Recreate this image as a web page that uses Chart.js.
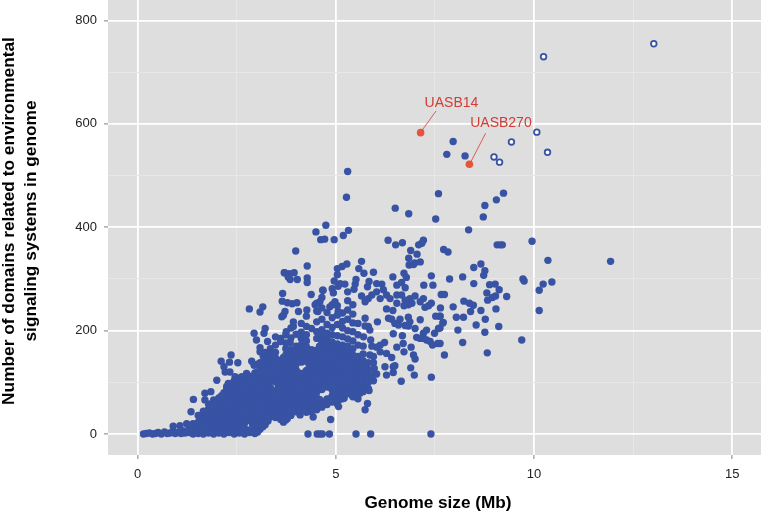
<!DOCTYPE html>
<html lang="en">
<head>
<meta charset="UTF-8">
<title>Genome size vs signaling domains</title>
<script src="https://cdn.jsdelivr.net/npm/chart.js"></script>
<style>
    html, body { margin: 0; padding: 0; overflow: hidden; background: #fff; width: 761px; height: 512px; }
    #chart { position: absolute; left: 0; top: -13px; }
</style>
</head>
<body>
<canvas id="chart" width="768" height="525"></canvas>
<script>
// axis values
const xGridMajor = [0, 5, 10, 15];
const xGridAll = [0, 2.5, 5, 7.5, 10, 12.5, 15];
const yGridMajor = [0, 200, 400, 600, 800];
const yGridAll = [0, 100, 200, 300, 400, 500, 600, 700, 800];

// genomes with no domains at all, far from the main cloud
const zeroSizes = [4.3, 4.53, 4.6, 4.66, 4.84, 5.51, 5.88, 7.4];

// thin tail of small genomes, [size, domains]
const tailPoints = [[0.15,0],[0.22,1],[0.3,2],[0.38,0],[0.45,1],[0.52,3],[0.6,0],[0.68,4],[0.75,1],[0.82,2],[0.9,6],[0.9,15],[0.95,1],[1.02,3],[1.07,16],[1.1,1],[1.15,6],[1.2,2],[1.24,20],[1.3,3],[1.35,9],[1.3,14],[1.35,43],[1.41,67],[1.7,79],[1.85,82],[1.7,66],[2.0,104],[2.29,98],[2.25,92]];

// solid part of the cloud, one list of domain counts per genome size
const coreSizes = [1.4,1.53,1.66,1.79,1.92,2.05,2.18,2.31,2.44,2.57,2.7,2.83,2.96,3.09,3.22,3.35,3.48,3.61,3.74,3.87,4.0,4.13,4.26,4.39,4.52,4.65,4.78,4.91,5.04,5.17,5.3,5.43,5.56,5.69,5.82,5.95];
const coreCounts = [
    [0,9,20],
    [1,12,23,36],
    [0,10,21,33,44],
    [2,13,25,36,48,58],
    [0,11,22,34,45,55,66],
    [2,12,24,35,47,58,70],
    [0,10,22,33,44,56,68,80],
    [3,14,25,37,48,60,71,84,93],
    [0,11,22,34,45,57,68,80,92,103],
    [2,13,25,36,48,59,71,82,94,108],
    [0,10,21,33,44,56,67,79,90,104],
    [3,26,37,49,60,72,83,95,112],
    [1,12,24,35,46,58,69,81,92,104,118],
    [9,21,32,44,55,67,78,90,101,113,125,138,167],
    [18,30,41,53,64,76,87,99,110,122,133,146,158],
    [33,44,56,67,79,90,102,113,125,136,148,165],
    [32,43,55,66,78,101,112,124,135,147,158,172,188],
    [28,40,51,63,74,86,97,109,120,132,143,185],
    [27,38,50,61,73,84,96,107,119,130,142,153,165,176,192],
    [36,48,59,71,82,94,105,117,128,140,151,163,186,205],
    [43,55,66,78,89,101,112,124,135,147,158,170,193],
    [47,58,70,81,93,104,116,139,150,162,173,185,197,214],
    [42,54,65,77,88,100,111,123,146,157,169,180,192,208,228],
    [48,59,71,82,94,105,117,128,140,151,163,204],
    [47,58,70,81,93,104,116,127,139,150,162,185,198,217,238,253],
    [52,63,86,98,109,121,132,144,155,167,178,190,202,222,244,264],
    [57,68,91,103,114,126,137,149,160,172,183,195,212,235],
    [62,74,85,97,108,120,131,143,154,166,178,192,206,225,250,281],
    [58,70,81,93,104,116,127,139,150,162,174,190,212,230,248],
    [68,80,91,103,114,126,137,149,160,172,188,205,218,234],
    [78,89,101,112,124,135,147,158,170,184,200,222,240,258],
    [72,84,95,107,118,130,141,153,165,180,198,215,232,250],
    [68,80,92,104,115,127,139,150,172,192,214],
    [82,94,106,118,130,142,155,170],
    [88,100,112,125,138],
    [103,115,138,150]
];

// more of the same cloud, between the lists above
const fillSizes = [1.6,1.73,1.86,1.99,2.12,2.25,2.38,2.51,2.64,2.77,2.9,3.03,3.16,3.29,3.42,3.55,3.68,3.81,3.94,4.07,4.2,4.33,4.46,4.59,4.72,4.85,4.98,5.11,5.24,5.37,5.5];
const fillCounts = [
    [5,16,28],
    [6,18,30,42],
    [6,17,28,40,50],
    [5,17,29,40,52,62],
    [6,16,28,39,50,62,74],
    [8,19,31,42,54,65,78,88],
    [5,16,28,39,51,62,74,86,98],
    [7,19,30,42,53,65,76,88,100],
    [5,15,27,38,50,61,73,84,96],
    [8,31,43,54,66,77,89,100],
    [6,18,30,40,52,63,75,86,98,110],
    [4,15,27,38,50,61,73,84,96,107,120,135],
    [14,26,38,49,61,72,84,95,107,118,130],
    [25,36,48,59,71,82,94,105,117,128,140,152],
    [38,49,61,72,84,107,118,130,141,155],
    [34,46,57,69,80,92,103,115,126,138],
    [32,44,56,67,79,90,102,113,125,136,148],
    [40,53,65,76,88,99,111,122,134,145,158],
    [48,60,72,83,95,106,118,130,141,153],
    [50,61,72,84,95,107,118,141,153,164],
    [48,60,72,84,95,107,118,141,153,164],
    [52,64,76,87,99,110,122,133,145,156],
    [52,64,87,99,110,122,133,145,156],
    [55,67,90,101,113,124,136,147,158,170],
    [62,97,108,120,131,143,154],
    [68,91,103,114,126,137,149,160,172],
    [65,76,87,99,110,122,133,145,156],
    [75,86,97,109,120,132,143,155,166],
    [82,95,107,118,130,141,153,165],
    [78,90,101,113,124,136,147,160],
    [74,88,100,112,123,135,146]
];

// scattered points around the cloud, [size, domains]
const scatterPoints = [
    [5.65,267],[5.82,262],[5.74,256],[5.91,269],[6.03,275],[6.2,279],[6.28,269],[6.12,262],[6.37,262],[6.54,269],[6.66,269],[6.54,253],[6.75,259],[6.87,262],[7.0,267],[6.72,248],[6.83,250],[6.92,253],[7.21,262],[7.13,256],[7.25,245],[7.34,248],[7.41,253],[7.52,228],[7.63,228],[7.71,216],[6.28,242],[6.44,239],[6.33,224],[6.41,222],[6.62,222],[6.49,214],[6.58,211],[6.83,226],[6.87,217],[6.75,210],[6.83,209],[7.13,221],[6.05,217],[5.74,224],[7.0,204],[7.29,201],[7.21,195],[7.59,204],[7.49,195],[6.45,194],[6.68,190],[5.74,209],[5.82,208],[5.86,201],[5.7,188],[5.88,182],[7.04,187],[7.13,185],[7.21,185],[7.29,182],[7.38,179],[7.44,172],[7.57,175],[6.23,177],[6.12,172],[6.03,168],[5.91,170],[6.54,168],[6.7,175],[6.72,159],[6.9,168],[6.28,156],[6.12,159],[6.41,148],[5.86,153],[6.96,153],[7.0,145],[6.89,128],[6.98,114],[7.41,110],[6.65,102],[6.24,130],[6.45,130],[6.49,132],[6.28,114],[5.97,127],[6.03,116],[6.45,119],[5.84,84],[5.8,59],[5.74,47],[5.46,79],[5.57,85],[5.61,79],[5.49,72],[5.21,69],[5.07,53],[5.08,66],[4.86,66],[4.98,79],[4.87,28],[4.1,37],[4.43,33],[4.39,43],[4.6,56],[3.68,23],[3.78,30],
    [2.82,242],[3.16,246],[3.09,236],[3.7,312],[3.83,310],[3.95,312],[3.85,299],[4.03,299],[3.66,272],[3.65,257],[3.78,254],[3.9,252],[4.02,254],[3.72,237],[3.64,227],[3.68,230],[2.94,195],[3.22,204],[3.19,195],[3.0,182],[3.28,179],[3.75,198],[3.93,208],[3.85,177],[3.61,179],[3.09,159],[3.17,150],[2.36,153],[2.11,141],[2.32,139],[2.53,138],[2.18,130],[2.21,120],[2.33,120],[2.88,141],[2.94,133],[2.75,117],[2.63,111],[2.46,111],
    [4.06,237],[4.27,240],[4.55,237],[4.6,256],[4.48,250],[4.85,246],[4.98,256],[5.06,237],[3.93,217],[4.38,270],[4.68,278],[4.94,273],[3.99,354],[4.28,325],[4.28,302],[4.28,293],[5.28,329],[5.16,324],[5.04,320],[5.65,334],[5.58,320],[5.71,311],[5.95,313],[3.71,312],[3.8,304],[5.04,308],[4.96,296],[5.11,291],[5.06,286],[5.23,290],[5.51,299],[5.49,290],[5.46,280],[6.44,304],[6.72,311],[6.78,303],[7.41,306],[5.84,295],[6.03,291],[6.16,290],[5.8,285],[6.54,288],[6.66,293],[6.75,283],[7.22,288],[7.45,288],[4.67,278],[5.3,275]
];

// upper end of the cloud and far outliers, [size, domains]
const outlierPoints = [
    [4.75,404],[5.32,394],[4.5,391],[5.19,384],[4.62,376],[4.72,377],[4.96,376],[6.32,375],[7.21,375],[7.17,369],[7.09,366],[6.68,370],[6.51,366],[6.89,355],[7.05,348],[6.84,340],[7.13,333],[6.99,331],[6.85,327],[6.96,328],
    [5.3,508],[5.27,458],[6.5,437],[6.84,426],[7.52,416],[7.59,465],[7.96,566],[7.8,541],[8.26,538],[9.23,466],[9.05,453],[8.76,442],[8.72,420],[8.35,395],[9.95,373],[9.07,366],[9.15,366],[9.2,366],[7.72,357],[7.83,352],[10.35,336],[11.93,334],[8.66,329],[8.48,322],[8.76,316],[8.73,307],[8.2,304],[7.87,300],[9.72,300],[9.75,296],[8.48,291],[9.02,290],[8.88,289],[10.45,294],[10.23,290],[9.12,279],[10.13,278],[8.81,273],[9.31,266],[9.03,267],[8.95,264],[8.83,259],[7.66,270],[7.74,270],[8.23,257],[8.37,253],[8.47,249],[7.96,246],[7.64,244],[9.04,242],[10.13,239],[8.66,239],[8.4,237],[7.63,228],[8.04,226],[8.22,226],[8.77,222],[7.7,215],[8.54,211],[9.11,208],[7.63,205],[8.08,201],[8.76,197],[9.69,182],[7.63,175],[8.2,177],[7.74,153],[8.82,157]
];

// genomes outside the main trend, drawn hollow
const hollowPoints = [[13.02,755],[10.24,730],[10.07,584],[9.43,565],[10.34,545],[8.99,536],[9.13,526]];

// the two highlighted strains
const strainNames = ['UASB14', 'UASB270'];
const strainSizes = [7.14, 8.37];
const strainDomains = [583, 522];
const labelSizes = [7.24, 8.39];
const labelDomains = [633, 593];
const leaderSizes = [[7.17, 7.53], [8.41, 8.78]];
const leaderDomains = [[587, 625], [527, 582]];

const toXY = p => ({ x: p[0], y: p[1] });

const bluePoints = [];
zeroSizes.forEach(s => bluePoints.push({ x: s, y: 0 }));
tailPoints.forEach(p => bluePoints.push(toXY(p)));
coreSizes.forEach((s, i) => coreCounts[i].forEach(c => bluePoints.push({ x: s, y: c })));
fillSizes.forEach((s, i) => fillCounts[i].forEach(c => bluePoints.push({ x: s, y: c })));
scatterPoints.forEach(p => bluePoints.push(toXY(p)));
outlierPoints.forEach(p => bluePoints.push(toXY(p)));

const blue = '#3853a4';
const red = '#e8543a';
const labelRed = '#d13c35';

const panelBackground = {
    id: 'panelBackground',
    beforeDraw(chart) {
        const a = chart.chartArea;
        chart.ctx.save();
        chart.ctx.fillStyle = '#dedede';
        chart.ctx.fillRect(a.left, a.top, a.right - a.left, a.bottom - a.top);
        chart.ctx.restore();
    }
};

// red names next to the two strains
const strainLabels = {
    id: 'strainLabels',
    afterDatasetsDraw(chart) {
        const ctx = chart.ctx;
        ctx.save();
        ctx.fillStyle = labelRed;
        ctx.font = '14px "Liberation Sans"';
        ctx.textBaseline = 'alphabetic';
        strainNames.forEach((name, i) => {
            ctx.fillText(name, chart.scales.x.getPixelForValue(labelSizes[i]), chart.scales.y.getPixelForValue(labelDomains[i]));
        });
        ctx.restore();
    }
};

const leaderSets = strainNames.map((name, i) => ({
    label: name + ' leader',
    data: leaderSizes[i].map((s, k) => ({ x: s, y: leaderDomains[i][k] })),
    showLine: true,
    borderColor: labelRed,
    borderWidth: 0.8,
    pointRadius: 0
}));

// the labels must not shrink the panel
const noScalePadding = s => {
    s.paddingLeft = 0;
    s.paddingRight = 0;
    s.paddingTop = 0;
    s.paddingBottom = 0;
};

new Chart(document.getElementById('chart'), {
    type: 'scatter',
    data: {
        datasets: [
            ...leaderSets,
            {
                label: 'Highlighted strains',
                data: strainSizes.map((s, i) => ({ x: s, y: strainDomains[i] })),
                backgroundColor: red,
                borderWidth: 0,
                pointRadius: 3.8
            },
            {
                label: 'Hollow',
                data: hollowPoints.map(toXY),
                backgroundColor: '#ffffff',
                borderColor: blue,
                borderWidth: 1.8,
                pointRadius: 2.8
            },
            {
                label: 'Genomes',
                data: bluePoints,
                backgroundColor: blue,
                borderWidth: 0,
                pointRadius: 3.7
            }
        ]
    },
    options: {
        responsive: false,
        animation: false,
        layout: { padding: 0, autoPadding: false },
        plugins: { legend: { display: false }, tooltip: { enabled: false } },
        scales: {
            x: {
                type: 'linear',
                min: -0.744,
                max: 15.9,
                afterBuildTicks: s => { s.ticks = xGridAll.map(v => ({ value: v })); },
                afterFit: s => { s.height = 57; noScalePadding(s); },
                border: { display: false },
                grid: {
                    color: c => xGridMajor.includes(c.tick.value) ? '#ffffff' : '#e7e7e7',
                    lineWidth: c => xGridMajor.includes(c.tick.value) ? 1.8 : 1,
                    tickColor: c => xGridMajor.includes(c.tick.value) ? '#808080' : 'rgba(0,0,0,0)',
                    tickWidth: 1,
                    tickLength: 4
                },
                ticks: {
                    autoSkip: false,
                    maxRotation: 0,
                    padding: 8,
                    color: '#222222',
                    font: { family: '"Liberation Sans"', size: 13 },
                    callback: v => xGridMajor.includes(v) ? String(v) : ''
                },
                title: {
                    display: true,
                    text: 'Genome size (Mb)',
                    color: '#000000',
                    font: { family: '"Liberation Sans"', size: 17.2, weight: 'bold', lineHeight: 1 },
                    padding: { top: 10, bottom: 0 }
                }
            },
            y: {
                type: 'linear',
                min: -40.6,
                max: 864.8,
                afterBuildTicks: s => { s.ticks = yGridAll.map(v => ({ value: v })); },
                afterFit: s => { s.width = 108; noScalePadding(s); },
                border: { display: false },
                grid: {
                    color: c => yGridMajor.includes(c.tick.value) ? '#ffffff' : '#e7e7e7',
                    lineWidth: c => yGridMajor.includes(c.tick.value) ? 1.8 : 1,
                    tickColor: c => yGridMajor.includes(c.tick.value) ? '#808080' : 'rgba(0,0,0,0)',
                    tickWidth: 1,
                    tickLength: 4
                },
                ticks: {
                    autoSkip: false,
                    padding: 7,
                    color: '#222222',
                    font: { family: '"Liberation Sans"', size: 13 },
                    callback: v => yGridMajor.includes(v) ? String(v) : ''
                },
                title: {
                    display: true,
                    text: ['Number of domains related to environmental', 'signaling systems in genome'],
                    color: '#000000',
                    font: { family: '"Liberation Sans"', size: 17.3, weight: 'bold', lineHeight: 1.27 },
                    padding: { top: -2, bottom: 0 }
                }
            }
        }
    },
    plugins: [panelBackground, strainLabels]
});
</script>
</body>
</html>
